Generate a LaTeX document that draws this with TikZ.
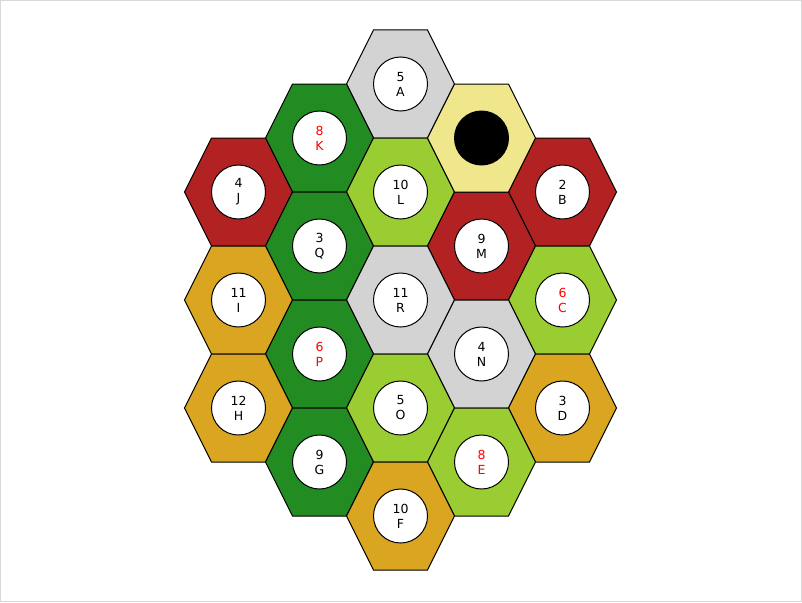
\documentclass[tikz,border=0pt]{standalone}
\usepackage{fontspec}
\setmainfont{DejaVu Sans}
\definecolor{cFire}{RGB}{178,34,34}
\definecolor{cForest}{RGB}{34,139,34}
\definecolor{cYG}{RGB}{154,205,50}
\definecolor{cGold}{RGB}{218,165,32}
\definecolor{cGray}{RGB}{211,211,211}
\definecolor{cKhaki}{RGB}{240,230,140}
\definecolor{cFrame}{RGB}{216,216,216}
\tikzset{
  token/.style={circle, draw=black, line width=1pt, fill=white, minimum size=54pt, inner sep=0pt, align=center, font=\fontsize{12.5}{15}\selectfont},
  robber/.style={circle, fill=black, minimum size=55pt, inner sep=0pt},
  tile/.style={draw=black, line width=1pt, line join=miter}
}
\begin{document}
\begin{tikzpicture}[x=1pt,y=-1pt]
\useasboundingbox (0,0) rectangle (802,602);
\draw[cFrame, line width=1pt] (0.5,0.5) rectangle (801.5,601.5);
\foreach \x/\y/\c/\n/\l/\t in {
  400.5/84/cGray/5/A/black,
  319.5/138/cForest/8/K/red,
  238.5/192/cFire/4/J/black,
  400.5/192/cYG/10/L/black,
  562.5/192/cFire/2/B/black,
  319.5/246/cForest/3/Q/black,
  481.5/246/cFire/9/M/black,
  238.5/300/cGold/11/I/black,
  400.5/300/cGray/11/R/black,
  562.5/300/cYG/6/C/red,
  319.5/354/cForest/6/P/red,
  481.5/354/cGray/4/N/black,
  238.5/408/cGold/12/H/black,
  400.5/408/cYG/5/O/black,
  562.5/408/cGold/3/D/black,
  319.5/462/cForest/9/G/black,
  481.5/462/cYG/8/E/red,
  400.5/516/cGold/10/F/black}
{
  \draw[tile, fill=\c] (\x-54,\y) -- (\x-27,\y-54) -- (\x+27,\y-54) -- (\x+54,\y) -- (\x+27,\y+54) -- (\x-27,\y+54) -- cycle;
  \node[token, text=\t] (tok\l) at (\x,\y) {\n\\\l};
}
\draw[tile, fill=cKhaki] (481.5-54,138) -- (481.5-27,84) -- (481.5+27,84) -- (481.5+54,138) -- (481.5+27,192) -- (481.5-27,192) -- cycle;
\node[robber] (desert) at (481.5,138) {};
\end{tikzpicture}
\end{document}
